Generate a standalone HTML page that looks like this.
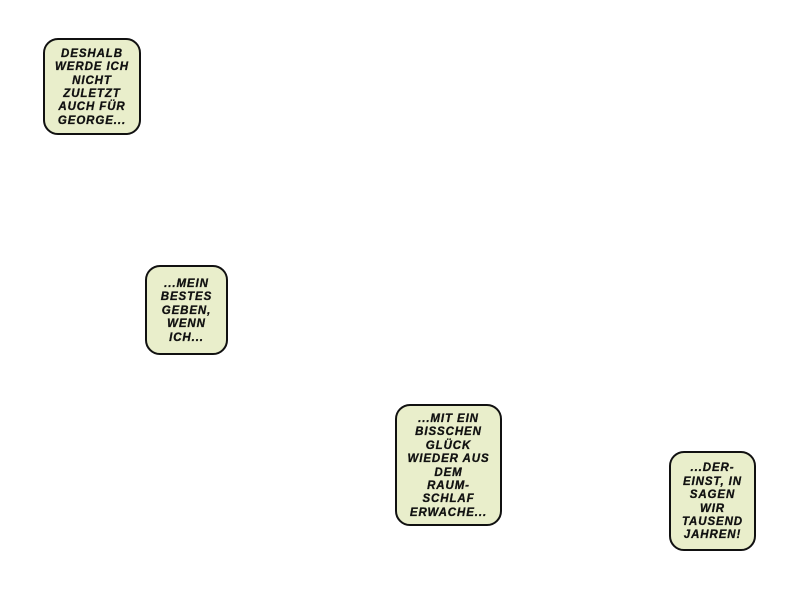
<!DOCTYPE html>
<html><head><meta charset="utf-8"><style>
body{margin:0;width:800px;height:600px;background:#fff;position:relative;overflow:hidden}
.b{position:absolute;box-sizing:border-box;background:#e9eecb;border:2.5px solid #111;border-radius:15px;
font-family:"Liberation Sans",sans-serif;font-weight:900;font-style:italic;font-size:11.5px;line-height:13.4px;
text-align:center;color:#111;display:flex;align-items:center;justify-content:center;letter-spacing:0.9px;padding-top:3px;
-webkit-text-stroke:0.3px #111}
</style></head><body>
<div class="b" style="left:43px;top:38px;width:98px;height:97px">DESHALB<br>WERDE ICH<br>NICHT<br>ZULETZT<br>AUCH FÜR<br>GEORGE...</div>
<div class="b" style="left:145px;top:265px;width:83px;height:90px">...MEIN<br>BESTES<br>GEBEN,<br>WENN<br>ICH...</div>
<div class="b" style="left:395px;top:404px;width:107px;height:122px">...MIT EIN<br>BISSCHEN<br>GLÜCK<br>WIEDER AUS<br>DEM<br>RAUM-<br>SCHLAF<br>ERWACHE...</div>
<div class="b" style="left:669px;top:451px;width:87px;height:100px">...DER-<br>EINST, IN<br>SAGEN<br>WIR<br>TAUSEND<br>JAHREN!</div>
</body></html>
